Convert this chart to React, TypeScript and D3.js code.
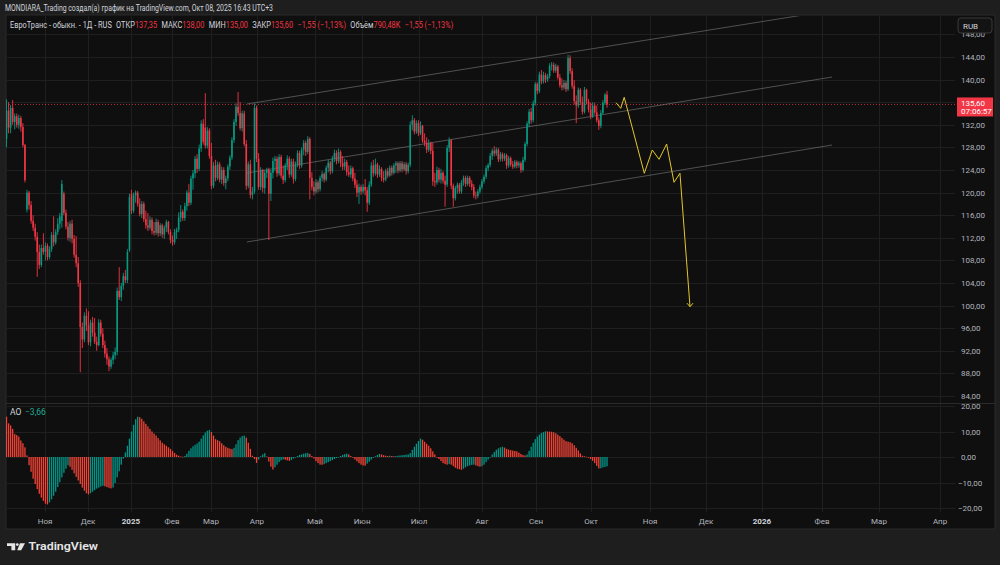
import React, { useLayoutEffect, useRef, useState } from 'react';
import * as d3 from 'd3';

// ---------- DATA ----------
const open = [
129.5,134.5,131.5,135.0,132.5,133.5,132.0,133.2,131.6,128.4,
117.0,120.0,117.8,115.0,113.8,112.2,109.5,107.2,110.2,109.5,
110.6,108.6,110.0,112.5,111.2,113.0,114.5,115.0,119.8,116.4,
114.0,112.0,114.5,111.8,109.0,107.5,104.0,96.2,94.0,98.2,
96.5,93.5,97.0,95.2,93.6,93.0,97.0,95.0,93.0,91.5,
90.5,89.2,90.4,91.2,91.8,102.6,101.5,103.5,105.2,104.5,
109.8,119.8,116.8,119.5,120.0,118.0,116.2,118.0,115.3,114.2,
113.8,115.2,113.2,112.9,114.8,112.8,114.2,112.6,113.8,114.8,
113.0,111.6,111.2,113.0,113.4,115.6,116.6,115.5,117.6,120.0,
118.2,122.5,123.4,126.0,124.2,127.8,132.2,131.5,128.3,131.0,
126.5,121.2,124.8,122.6,125.0,122.3,124.0,121.7,122.5,124.6,
126.2,129.3,132.5,135.2,134.1,131.4,134.0,128.6,121.2,125.0,
119.6,120.2,135.0,126.0,121.0,124.0,120.8,123.5,124.0,119.8,
123.5,125.6,126.0,123.4,126.3,123.0,122.2,124.8,126.0,123.2,
125.5,122.4,125.0,127.0,124.8,127.6,128.8,127.2,129.5,122.6,
121.0,120.2,121.8,120.6,122.6,123.3,122.3,124.4,125.3,123.8,
126.0,127.0,125.6,127.2,125.2,124.6,125.4,123.6,123.2,124.3,
122.5,121.4,120.0,121.0,120.2,121.0,120.4,118.2,121.4,124.8,
123.4,125.0,123.2,124.2,122.6,122.3,123.8,123.0,124.4,123.5,
124.8,125.2,123.9,125.2,124.1,125.0,123.8,124.9,132.0,132.8,
130.8,132.3,130.5,131.8,129.2,128.8,127.6,128.8,127.4,122.0,
121.8,124.0,122.3,123.5,122.1,121.4,127.9,129.3,121.2,119.0,
120.8,121.4,120.2,121.8,122.6,121.5,122.6,121.6,121.0,119.5,
119.4,120.2,121.0,122.0,122.8,124.3,124.9,126.5,127.4,126.9,
127.6,125.9,126.8,126.0,126.6,124.8,126.1,125.0,124.6,125.4,
124.8,125.2,124.0,125.8,128.6,132.2,134.3,132.8,135.8,139.2,
138.0,140.9,139.7,140.8,140.0,140.6,142.4,142.6,141.6,142.3,
140.4,139.0,138.6,139.4,138.3,143.8,141.5,138.9,136.2,135.4,
138.2,136.0,134.3,138.2,136.1,134.7,133.5,135.4,134.2,132.8,
131.8,134.1,135.9,137.35];
const high = [
136.5,136.0,135.5,136.4,134.0,134.0,133.8,133.6,132.3,128.6,
120.5,120.3,118.5,116.0,114.5,113.0,110.8,110.8,112.8,111.2,
111.0,110.5,113.0,115.8,113.5,115.5,116.4,122.2,120.2,117.0,
114.8,115.0,115.2,112.5,112.3,108.6,104.5,97.0,98.8,99.5,
99.0,97.5,98.0,97.8,94.5,97.6,97.5,96.0,93.8,92.5,
91.0,90.8,91.8,92.6,103.2,106.8,104.0,105.8,106.3,110.0,
119.8,120.5,120.0,120.4,120.3,119.0,118.5,118.4,116.8,116.4,
115.8,115.6,114.8,115.4,115.2,114.6,114.5,114.2,115.2,115.0,
113.5,112.4,113.6,113.8,116.5,117.8,117.0,118.2,120.4,121.5,
123.0,124.0,126.5,126.8,128.5,132.8,133.0,137.6,131.6,131.4,
128.8,125.4,125.8,125.5,125.4,124.6,124.5,123.0,125.0,126.6,
129.8,133.0,135.8,137.8,136.0,134.5,134.5,129.3,125.5,125.8,
121.0,135.8,135.4,127.0,124.5,124.2,124.0,124.4,124.4,124.0,
126.2,126.5,126.4,126.8,126.7,124.8,125.2,126.6,126.4,126.0,
126.0,125.5,127.5,127.4,128.0,129.3,129.2,130.0,129.8,123.6,
122.0,122.4,122.2,123.0,123.8,123.6,124.8,125.8,125.6,126.5,
127.6,127.5,127.8,127.5,126.5,126.0,125.8,124.8,124.8,124.6,
123.5,122.2,121.6,121.4,121.5,122.4,121.0,122.0,125.4,125.8,
126.0,125.3,124.8,124.5,123.8,124.2,124.4,124.8,124.8,125.2,
125.6,125.5,125.6,125.6,125.4,125.4,125.3,132.6,133.7,133.2,
132.8,132.8,132.6,132.0,130.5,129.8,129.4,129.0,128.8,123.5,
124.6,124.4,124.2,123.8,123.0,128.4,129.8,129.5,121.6,121.2,
121.8,121.7,122.2,123.0,123.0,123.0,122.9,122.2,121.5,120.2,
120.6,121.4,122.4,123.2,124.8,125.2,127.0,127.8,128.2,128.0,
127.9,127.2,127.1,127.0,126.9,126.5,126.4,125.6,125.8,125.7,
125.6,125.5,126.3,129.0,132.6,134.8,135.0,136.3,139.6,139.5,
141.4,141.7,141.4,141.2,141.0,142.9,143.1,143.0,142.8,142.6,
141.0,140.2,139.9,139.8,144.4,144.3,142.0,139.9,137.2,138.6,
138.5,137.0,138.7,138.4,136.6,135.9,136.0,135.9,135.4,133.3,
134.6,136.4,137.6,138.0];
const low = [
128.0,130.5,130.5,132.0,131.2,131.5,131.3,130.8,128.0,121.8,
116.5,117.0,114.5,113.2,111.5,105.1,106.5,106.8,109.0,108.0,
108.0,108.2,109.5,110.5,110.8,112.5,113.5,113.8,116.0,113.5,
111.5,111.3,111.0,108.5,106.8,103.3,88.2,92.5,93.5,95.5,
93.0,92.8,94.5,93.2,92.0,92.8,94.5,92.5,90.8,89.5,
88.4,88.8,89.6,90.5,91.2,101.0,100.8,102.8,104.0,104.0,
109.5,116.2,116.4,118.2,117.5,115.8,115.5,114.8,113.6,113.2,
113.4,112.6,112.4,112.5,112.2,112.3,112.0,111.8,113.0,112.6,
111.0,110.6,110.8,111.8,113.0,114.8,115.0,115.0,116.8,117.6,
117.8,120.5,122.6,123.5,123.8,127.2,128.5,127.8,127.8,126.0,
120.6,120.8,122.0,122.2,121.8,121.5,121.2,120.6,122.0,124.0,
125.8,128.8,131.8,133.6,131.0,130.8,128.2,120.5,120.8,119.0,
118.8,119.8,125.4,120.5,120.4,120.0,119.8,122.6,111.6,118.5,
122.5,123.8,122.8,123.0,122.5,121.5,121.8,124.0,122.6,122.8,
121.6,122.0,124.5,124.2,124.4,126.6,126.5,126.8,118.8,120.4,
119.5,119.8,120.0,120.2,122.0,121.8,122.0,123.6,123.2,123.4,
125.4,125.0,125.2,124.5,124.0,124.0,123.0,122.8,122.6,122.0,
120.8,119.2,118.0,119.6,119.8,119.5,116.6,117.8,121.0,122.8,
123.0,122.6,122.8,122.0,121.8,122.0,122.6,122.8,123.0,123.2,
123.5,123.4,123.6,123.6,123.8,123.2,123.4,124.5,131.0,130.3,
130.4,130.0,130.2,128.8,128.2,127.0,127.2,126.8,121.2,121.0,
121.4,121.8,121.6,121.6,117.5,121.0,127.2,120.6,117.5,118.6,
119.8,119.8,119.8,121.2,121.0,121.2,121.0,120.4,119.0,118.8,
119.0,119.8,120.6,121.6,122.4,123.8,124.5,125.8,126.4,126.5,
125.4,125.5,125.5,125.6,124.2,124.4,124.6,124.2,124.3,124.3,
124.4,123.5,123.7,125.4,128.2,131.6,132.2,132.4,135.4,137.4,
137.6,139.2,139.3,139.4,139.6,140.2,141.6,141.2,141.2,140.0,
138.6,138.1,138.2,137.8,138.0,141.0,138.4,135.6,132.3,135.0,
135.5,133.8,134.0,135.6,134.2,133.0,133.2,133.8,132.4,131.1,
131.4,133.8,135.5,135.0];
const close = [
134.5,131.5,135.0,132.5,133.5,132.0,133.2,131.6,128.4,122.2,
120.0,117.8,115.0,113.8,112.2,109.5,107.2,110.2,109.5,110.6,
108.6,110.0,112.5,111.2,113.0,114.5,115.8,121.5,116.4,114.0,
112.0,114.5,111.8,109.0,107.5,104.0,96.2,94.0,98.2,96.5,
93.5,97.0,95.2,93.6,93.0,97.0,95.0,93.0,91.5,90.5,
89.2,90.4,91.2,91.8,102.6,101.5,103.5,105.2,104.5,109.5,
119.2,116.8,119.5,120.0,118.0,116.2,118.0,115.3,114.2,113.8,
115.2,113.2,112.9,114.8,112.8,114.2,112.6,113.8,114.8,113.0,
111.6,111.2,113.0,113.4,115.6,116.6,115.5,117.6,120.0,118.2,
122.5,123.4,126.0,124.2,127.8,132.2,129.0,128.3,131.0,126.5,
121.2,124.8,122.6,125.0,122.3,124.0,121.7,122.5,124.6,126.2,
129.3,132.5,135.2,134.1,131.4,134.0,128.6,121.2,125.0,119.6,
120.2,135.0,126.0,121.0,124.0,120.8,123.5,124.0,119.8,123.5,
125.6,126.0,123.4,126.3,123.0,122.2,124.8,126.0,123.2,125.5,
122.4,125.0,127.0,124.8,127.6,128.8,127.2,129.5,122.6,121.0,
120.2,121.8,120.6,122.6,123.3,122.3,124.4,125.3,123.8,126.0,
127.0,125.6,127.2,125.2,124.6,125.4,123.6,123.2,124.3,122.5,
121.4,120.0,121.0,120.2,121.0,120.4,118.2,121.4,124.8,123.4,
125.0,123.2,124.2,122.6,122.3,123.8,123.0,124.4,123.5,124.8,
125.2,123.9,125.2,124.1,125.0,123.8,124.9,132.0,132.8,130.8,
132.3,130.5,131.8,129.2,128.8,127.6,128.8,127.4,122.0,121.8,
124.0,122.3,123.5,122.1,121.4,127.9,129.3,121.2,119.0,120.8,
121.4,120.2,121.8,122.6,121.5,122.6,121.6,121.0,119.5,119.4,
120.2,121.0,122.0,122.8,124.3,124.9,126.5,127.4,126.9,127.6,
125.9,126.8,126.0,126.6,124.8,126.1,125.0,124.6,125.4,124.8,
125.2,124.0,125.8,128.6,132.2,134.3,132.8,135.8,139.2,138.0,
140.9,139.7,140.8,140.0,140.6,142.4,142.6,141.6,142.3,140.4,
139.0,138.6,139.4,138.3,143.8,141.5,138.9,136.2,135.4,138.2,
136.0,134.3,138.2,136.1,134.7,133.5,135.4,134.2,132.8,131.8,
134.1,135.9,137.35,135.6];

const aoValues = [
15.8,13.2,12.4,11.0,9.0,8.6,8.0,6.5,5.4,3.8,
0.6,-3.2,-5.8,-8.5,-10.6,-12.6,-14.4,-15.9,-17.2,-18.3,
-18.6,-17.8,-16.6,-15.2,-13.6,-11.8,-9.9,-8.0,-6.2,-4.6,
-3.2,-3.8,-5.0,-6.4,-7.8,-9.2,-10.6,-12.0,-13.2,-14.2,
-14.7,-14.2,-13.6,-13.0,-12.4,-12.0,-11.6,-11.3,-11.5,-11.8,
-12.1,-12.3,-12.0,-10.2,-8.0,-5.6,-3.0,-0.6,1.8,4.4,
7.2,10.0,12.6,14.8,15.8,15.6,15.0,14.0,13.0,12.0,
11.0,10.0,9.2,8.4,7.4,6.5,5.6,5.0,4.4,3.8,
3.2,2.4,1.6,0.9,0.5,0.2,0.1,0.4,1.3,2.4,
3.4,4.2,4.8,5.3,6.0,7.2,8.5,9.6,10.3,10.6,
9.8,8.4,7.0,6.6,6.2,5.4,4.6,4.0,3.6,3.3,
3.1,3.6,5.0,6.6,7.6,8.2,8.4,7.6,5.6,3.2,
0.5,-0.8,-2.3,-1.0,0.3,1.0,1.5,0.2,-1.8,-3.8,
-4.9,-4.0,-3.0,-2.0,-1.3,-0.9,-1.1,-1.3,-1.5,-1.2,
-0.6,-0.1,0.4,0.8,1.0,1.3,1.5,1.6,1.2,0.4,
-0.6,-1.6,-2.4,-3.0,-3.05,-2.8,-2.4,-2.0,-1.6,-1.2,
-0.8,-0.4,0.0,0.4,0.8,1.1,1.3,1.0,0.4,-0.3,
-1.0,-1.7,-2.4,-3.0,-3.3,-3.4,-2.6,-1.8,-1.0,-0.3,
0.3,0.8,1.2,1.0,0.7,0.5,0.4,0.5,0.4,0.3,
0.4,0.5,0.6,0.7,0.8,0.9,1.0,1.5,2.8,4.0,
5.2,6.3,7.2,6.8,6.0,5.2,4.4,3.4,2.2,1.0,
0.0,-0.8,-1.6,-2.4,-2.8,-3.0,-2.8,-3.0,-3.6,-4.2,
-4.6,-4.8,-5.0,-4.6,-4.0,-3.6,-3.3,-3.1,-3.0,-3.3,
-3.6,-3.8,-3.6,-3.0,-2.0,-1.0,0.0,1.0,2.0,2.8,
3.4,3.8,4.0,3.7,3.2,2.9,2.7,2.5,2.4,2.2,
1.7,1.2,0.8,0.6,1.0,2.4,4.0,5.6,7.0,8.0,
8.8,9.4,9.8,10.1,10.0,9.95,9.9,9.7,9.3,8.8,
8.2,7.5,6.8,6.2,6.0,5.8,5.4,4.6,3.6,2.6,
1.4,0.5,0.3,0.1,-0.3,-0.8,-1.5,-2.4,-3.5,-4.5,
-4.4,-4.1,-3.9,-3.66];

const priceTicks = [84, 88, 92, 96, 100, 104, 108, 112, 116, 120, 124, 128, 132, 136, 140, 144, 148];
const aoTicks = [20, 10, 0, -10, -20];
const monthLabels = ['Ноя', 'Дек', '2025', 'Фев', 'Мар', 'Апр', 'Май', 'Июн', 'Июл', 'Авг', 'Сен', 'Окт', 'Ноя', 'Дек', '2026', 'Фев', 'Мар', 'Апр'];
const monthBarIndex = [18.8, 39.8, 60.7, 80.8, 99.8, 122.2, 150.5, 173.5, 201.3, 232.0, 258.4, 285.2, 314.0, 341.3, 368.6, 397.9, 425.7, 455.5];

const channelBars = [117.3, 402.8];
const channelUpper = [135.68, 152.25];
const channelMiddle = [123.47, 140.46];
const channelLower = [111.26, 128.42];

const projectionBars = [297.4, 299.7, 301.4, 311.2, 315.1, 318.4, 322.1, 325.7, 328.6, 333.5];
const projectionPrices = [135.91, 134.92, 136.87, 123.42, 127.54, 125.89, 128.6, 121.82, 123.42, 99.81];

const lastPrice = 135.6;
const lastAO = -3.66;

const headerText = 'MONDIARA_Trading создал(а) график на TradingView.com, Окт 08, 2025 16:43 UTC+3';
const symbolText = 'ЕвроТранс - обыкн. - 1Д - RUS';
const legendLabels = ['ОТКР', 'МАКС', 'МИН', 'ЗАКР'];
const legendValues = ['137,35', '138,00', '135,00', '135,60'];
const changeText = '−1,55 (−1,13%)';
const volumeLabel = 'Объём';
const volumeValue = '790,48K';
const countdownText = '07:06:57';

// ---------- CHART ----------
const FONT = "Roboto, 'Noto Sans', 'DejaVu Sans', sans-serif";
const UP = '#089981';
const DOWN = '#f23645';
const AO_UP = '#009688';
const AO_DOWN = '#f44336';
const GRID = '#1f1f1f';
const AXIS_TEXT = '#b2b5be';
const LEGEND_TEXT = '#d1d4dc';
const LEGEND_WIDTH = 413;

const fmt = (v: number) => v.toFixed(2).replace('.', ',').replace('-', '−');

export default function App() {
  const N = close.length;
  const PL = 6, PR = 955, PT = 15, MAIN_B = 403, AO_T = 404, AO_B = 512;
  const x = d3.scaleLinear().domain([0, N - 1]).range([6.5, 607]);
  const y = d3.scaleLinear().domain([84, 144]).range([396, 57]);
  const yAO = d3.scaleLinear().domain([-20, 20]).range([508, 406]);

  const legendRef = useRef<SVGTextElement>(null);
  const [legendScale, setLegendScale] = useState(0.77);
  useLayoutEffect(() => {
    const el = legendRef.current;
    if (el) {
      const w = el.getComputedTextLength();
      if (w > 0) setLegendScale(LEGEND_WIDTH / w);
    }
  }, []);

  const lineGen = d3.line<[number, number]>().x(d => x(d[0])).y(d => y(d[1]));
  const channels = [channelUpper, channelMiddle, channelLower].map(c =>
    lineGen([[channelBars[0], c[0]], [channelBars[1], c[1]]]) as string);
  const projPts: [number, number][] = projectionBars.map((b, i) => [b, projectionPrices[i]]);
  const projPath = lineGen(projPts) as string;
  const ex = x(projectionBars[projectionBars.length - 1]);
  const ey = y(projectionPrices[projectionPrices.length - 1]);

  return (
    <svg width={1000} height={565} style={{ position: 'fixed', left: 0, top: 0, display: 'block' }} fontFamily={FONT}>
      <defs>
        <clipPath id="mainClip"><rect x={PL} y={PT + 1} width={PR - PL} height={MAIN_B - PT - 1} /></clipPath>
        <clipPath id="aoClip"><rect x={PL} y={AO_T} width={PR - PL} height={AO_B - AO_T} /></clipPath>
      </defs>
      <rect width={1000} height={565} fill="#1e1e1e" />
      <rect x={PL} y={PT} width={989} height={514} fill="#0f0f0f" stroke="#2b2b2b" strokeWidth={1} />

      {/* header */}
      <text x={5} y={11} fontSize={8.5} fill={LEGEND_TEXT} textLength={268} lengthAdjust="spacingAndGlyphs">{headerText}</text>

      {/* grid */}
      <g stroke={GRID} strokeWidth={1}>
        {priceTicks.map(p => (
          <line key={'hp' + p} x1={PL} x2={PR} y1={Math.round(y(p)) + 0.5} y2={Math.round(y(p)) + 0.5} />
        ))}
        {aoTicks.map(v => (
          <line key={'ha' + v} x1={PL} x2={PR} y1={Math.round(yAO(v)) + 0.5} y2={Math.round(yAO(v)) + 0.5} />
        ))}
        {monthBarIndex.map((b, i) => (
          <line key={'v' + i} x1={Math.round(x(b)) + 0.5} x2={Math.round(x(b)) + 0.5} y1={PT + 1} y2={AO_B} />
        ))}
      </g>
      <line x1={PL} x2={995} y1={MAIN_B + 0.5} y2={MAIN_B + 0.5} stroke="#2b2b2b" />

      {/* main pane */}
      <g clipPath="url(#mainClip)">
        <line x1={PL} x2={PR} y1={y(lastPrice)} y2={y(lastPrice)} stroke={DOWN} strokeOpacity={0.75} strokeDasharray="1 2" />
        {channels.map((d, i) => (
          <path key={'ch' + i} d={d} fill="none" stroke="#8a8a8a" strokeOpacity={0.6} strokeWidth={0.9} />
        ))}
        {close.map((c, i) => {
          const o = open[i];
          const col = c >= o ? UP : DOWN;
          const cx = x(i);
          const top = y(Math.max(o, c));
          const bot = y(Math.min(o, c));
          return (
            <g key={'c' + i}>
              <line x1={cx} x2={cx} y1={y(high[i])} y2={y(low[i])} stroke={col} strokeWidth={0.9} />
              <rect x={cx - 0.8} y={top} width={1.6} height={Math.max(0.8, bot - top)} fill={col} />
            </g>
          );
        })}
        <path d={projPath} fill="none" stroke="#e3c62c" strokeWidth={1} strokeLinejoin="miter" />
        <path d={`M${ex - 3},${ey - 3.5}L${ex},${ey}L${ex + 3},${ey - 3.5}`} fill="none" stroke="#e3c62c" strokeWidth={1} />
      </g>

      {/* legend: one text run, horizontally scaled to the reference width */}
      <g transform={`translate(10,27.5) scale(${legendScale},1)`}>
        <text ref={legendRef} x={0} y={0} fontSize={8.5} fill={LEGEND_TEXT}>
          <tspan>{symbolText}</tspan>
          {legendLabels.map((l, i) => (
            <React.Fragment key={'lg' + i}>
              <tspan dx={5}>{l}</tspan>
              <tspan fill={DOWN}>{legendValues[i]}</tspan>
            </React.Fragment>
          ))}
          <tspan dx={5} fill={DOWN}>{changeText}</tspan>
          <tspan dx={5}>{volumeLabel}</tspan>
          <tspan fill={DOWN}>{volumeValue}</tspan>
          <tspan dx={5} fill={DOWN}>{changeText}</tspan>
        </text>
      </g>

      {/* AO pane */}
      <g clipPath="url(#aoClip)">
        {aoValues.map((v, i) => {
          const prev = i > 0 ? aoValues[i - 1] : aoValues[0] + 1;
          const col = v > prev ? AO_UP : AO_DOWN;
          const y0 = yAO(0), y1 = yAO(v);
          return <rect key={'ao' + i} x={x(i) - 0.65} y={Math.min(y0, y1)} width={1.3} height={Math.max(0.6, Math.abs(y1 - y0))} fill={col} />;
        })}
      </g>
      <text x={10} y={415} fontSize={8.5} fill={LEGEND_TEXT}>AO</text>
      <text x={25} y={415} fontSize={8.5} fill="#22ab94">{fmt(lastAO)}</text>

      {/* price axis */}
      <g fontSize={8} fill={AXIS_TEXT}>
        {priceTicks.map(p => (
          <text key={'pt' + p} x={961} y={y(p) + 3}>{fmt(p)}</text>
        ))}
        {aoTicks.map(v => (
          <text key={'at' + v} x={v < 0 ? 958 : 961} y={yAO(v) + 3}>{fmt(v)}</text>
        ))}
      </g>
      <rect x={958} y={18} width={34} height={15} rx={3} fill="#131313" stroke="#3a3a3a" />
      <text x={963} y={28.5} fontSize={8} fill={LEGEND_TEXT}>RUB</text>
      <rect x={957} y={y(lastPrice) - 7} width={36} height={19} fill={DOWN} />
      <text x={961} y={y(lastPrice) + 1.5} fontSize={8} fill="#ffffff">{fmt(lastPrice)}</text>
      <text x={961} y={y(lastPrice) + 10} fontSize={8} fill="#ffffff">{countdownText}</text>

      {/* time axis */}
      <g fontSize={8} textAnchor="middle">
        {monthLabels.map((m, i) => {
          const isYear = /^\d{4}$/.test(m);
          return (
            <text key={'m' + i} x={x(monthBarIndex[i])} y={524} fill={isYear ? LEGEND_TEXT : AXIS_TEXT} fontWeight={isYear ? 700 : 400}>{m}</text>
          );
        })}
      </g>

      {/* footer logo */}
      <g fill="#e6e6e6">
        <path d="M7,543.3H15.2V550.2H11.4V546H7Z" />
        <circle cx={17.3} cy={544.6} r={1.4} />
        <path d="M20,543.3H25L21.2,550.2H17.2Z" />
        <text x={28.5} y={550.3} fontSize={10.5} fontWeight={600} textLength={69.5} lengthAdjust="spacingAndGlyphs">TradingView</text>
      </g>
    </svg>
  );
}
